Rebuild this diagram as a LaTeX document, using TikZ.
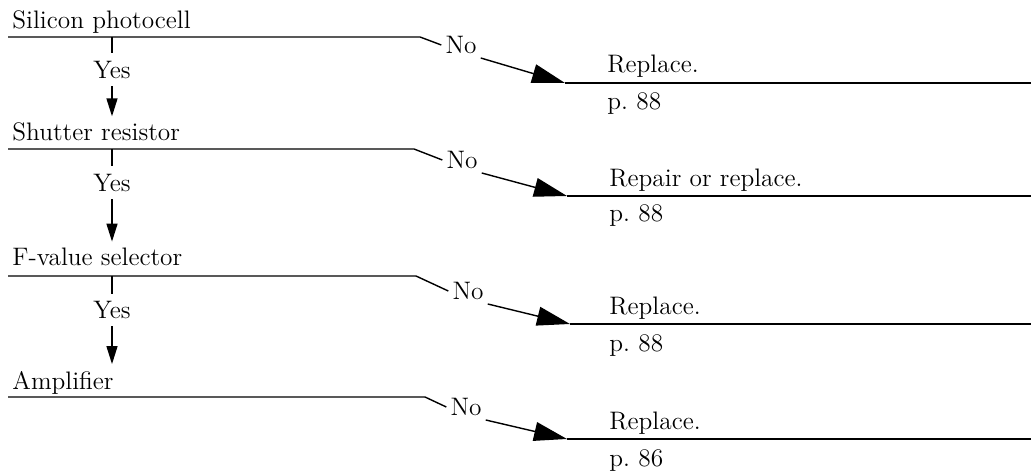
\documentclass[tikz,border=0pt]{standalone}
\usetikzlibrary{arrows.meta}

\begin{document}
\begin{tikzpicture}[x=0.02cm, y=-0.02cm, line width=0.8pt,
        txt/.style={anchor=base west, inner sep=1pt, font=\fontsize{14.4}{17}\selectfont},
        ans/.style={inner sep=2pt, font=\fontsize{14.4}{17}\selectfont},
        yes/.style={inner sep=4pt, font=\fontsize{14.4}{17}\selectfont},
        noarrow/.style={-{Triangle[length=0.66cm, width=0.38cm]}},
        yesarrow/.style={-{Triangle[length=0.36cm, width=0.22cm]}, shorten >=2.5pt}]
    \useasboundingbox (0,0) rectangle (1033,472);

    % left column: checks
    \node[txt] (q1) at (10,29)  {Silicon photocell};
    \node[txt] (q2) at (10,141) {Shutter resistor};
    \node[txt] (q3) at (10,266) {F-value selector};
    \node[txt] (q4) at (10,389) {Amplifier};

    \coordinate (s1) at (8,37);
    \coordinate (s2) at (8,149);
    \coordinate (s3) at (8,276);
    \coordinate (s4) at (8,397);
    \coordinate (k1) at (420,37);
    \coordinate (k2) at (414,149);
    \coordinate (k3) at (416,276);
    \coordinate (k4) at (425,397);

    % yes path
    \node[yes] (y1) at (112,70)  {Yes};
    \node[yes] (y2) at (112,183) {Yes};
    \node[yes] (y3) at (112,310) {Yes};
    \draw (y1 |- s1) -- (y1.north);
    \draw (y2 |- s2) -- (y2.north);
    \draw (y3 |- s3) -- (y3.north);
    \draw[yesarrow] (y1.south) -- (y1 |- q2.north);
    \draw[yesarrow] (y2.south) -- (y2 |- q3.north);
    \draw[yesarrow] (y3.south) -- (y3 |- q4.north);

    % no path
    \node[ans] (no1) at (461,45)  {No};
    \node[ans] (no2) at (462,160) {No};
    \node[ans] (no3) at (468,291) {No};
    \node[ans] (no4) at (466,407) {No};

    \coordinate (t1) at (565,83);
    \coordinate (t2) at (567,196);
    \coordinate (t3) at (570,324);
    \coordinate (t4) at (567,439);
    \coordinate (e1) at (1031,83);
    \coordinate (e2) at (1031,196);
    \coordinate (e3) at (1031,324);
    \coordinate (e4) at (1031,439);

    \draw (s1) -- (k1) -- (no1.west);
    \draw (s2) -- (k2) -- (no2.west);
    \draw (s3) -- (k3) -- (no3.west);
    \draw (s4) -- (k4) -- (no4.west);
    \draw[noarrow] (no1.south east) -- (t1);
    \draw[noarrow] (no2.south east) -- (t2);
    \draw[noarrow] (no3.south east) -- (t3);
    \draw[noarrow] (no4.south east) -- (t4);
    \draw (t1) -- (e1);
    \draw (t2) -- (e2);
    \draw (t3) -- (e3);
    \draw (t4) -- (e4);

    % right column: remedies
    \node[txt] (r1) at (605,73)  {Replace.};
    \node[txt] (r2) at (607,187) {Repair or replace.};
    \node[txt] (r3) at (607,315) {Replace.};
    \node[txt] (r4) at (607,429) {Replace.};
    \node[txt] (p1) at (605,110) {p.~88};
    \node[txt] (p2) at (607,222) {p.~88};
    \node[txt] (p3) at (607,352) {p.~88};
    \node[txt] (p4) at (607,466) {p.~86};
\end{tikzpicture}
\end{document}
